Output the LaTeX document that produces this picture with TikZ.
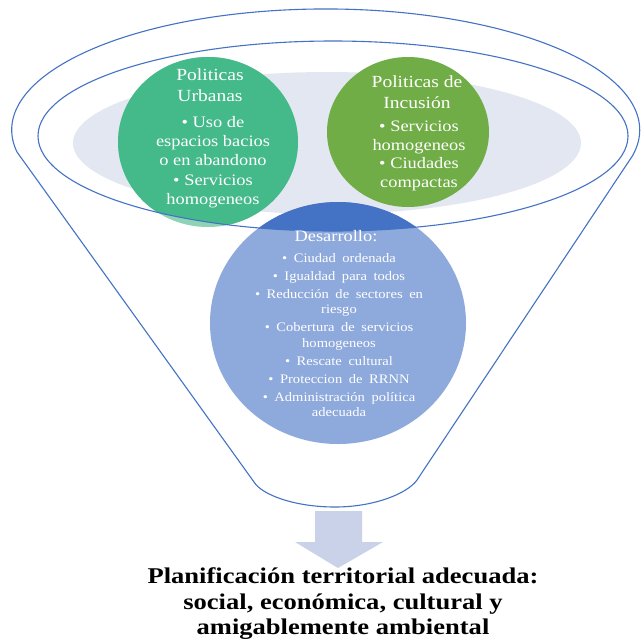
\documentclass[tikz,border=0pt]{standalone}
\usepackage{fontspec}
\setmainfont{Liberation Serif}
\newfontfamily\wf[FakeStretch=1.15]{Liberation Serif}
\newfontfamily\wfsp[FakeStretch=1.12,WordSpace=1.8]{Liberation Serif}
\newfontfamily\bwf[FakeStretch=1.18]{Liberation Serif}
\definecolor{lineblue}{HTML}{4472C4}
\definecolor{cgreenA}{HTML}{44B98A}
\definecolor{cgreenAlt}{HTML}{8ED3B5}
\definecolor{cgreenB}{HTML}{70AD47}
\definecolor{cblueL}{HTML}{8EA9DB}
\definecolor{cblueD}{HTML}{4472C4}
\definecolor{cgrey}{HTML}{E3E7F2}
\definecolor{carrow}{HTML}{CAD2EA}
\begin{document}
\begin{tikzpicture}[x=1pt,y=-1pt,
  outl/.style={draw=lineblue, line width=1.1pt},
  ctext/.style={text=white, align=center, inner sep=0pt},
  ttl/.style={ctext, font=\wf\fontsize{17}{20.5}\selectfont},
  dbul/.style={ctext, font=\wfsp\fontsize{13}{15.5}\selectfont},
]
\useasboundingbox (0,0) rectangle (642,638);
\fill[white] (0,0) rectangle (642,638);
% funnel outline
\path[outl, fill=white] (633,155) -- (417,480)
  .. controls (408,493) and (375,507) .. (335,507)
  .. controls (295,507) and (262,495) .. (254,482)
  -- (17,152) arc[start angle=169.5, end angle=371.9, x radius=314, y radius=121] -- cycle;
% grey ellipse
\fill[cgrey] (327,143) ellipse [x radius=254, y radius=71];
% circle A
\fill[cgreenAlt] (208,142) ellipse [x radius=90, y radius=85];
\begin{scope}
  \clip (333,136) ellipse [x radius=295, y radius=95];
  \fill[cgreenA] (208,142) ellipse [x radius=90, y radius=85];
\end{scope}
% circle B
\fill[cgreenB] (408,132) ellipse [x radius=81, y radius=75];
% circle C
\fill[cblueL] (338,323) ellipse [x radius=128, y radius=121];
\begin{scope}
  \clip (333,136) ellipse [x radius=295, y radius=95];
  \fill[cblueD] (338,323) ellipse [x radius=128, y radius=121];
\end{scope}
% inner ellipse
\draw[outl] (333,136) ellipse [x radius=295, y radius=95];
% texts
\node[ttl] (ta) at (210,85) {Politicas\\Urbanas};
\node[ctext, font=\wf\fontsize{16}{19.3}\selectfont] (ba) at (213,162) {• Uso de\\espacios bacios\\o en abandono\\• Servicios\\homogeneos};
\node[ttl] (tb) at (417,92) {Politicas de\\Incusión};
\node[ctext, font=\wf\fontsize{16}{18.5}\selectfont] (bb) at (419,156) {• Servicios\\homogeneos\\• Ciudades\\compactas};
\node[ctext, font=\wf\fontsize{16}{19}\selectfont] (tc) at (336,236) {Desarrollo:};
\node[dbul] (bc) at (339,335) {• Ciudad ordenada\\[2.5pt]
  • Igualdad para todos\\[2.5pt]
  • Reducción de sectores en\\riesgo\\[2.5pt]
  • Cobertura de servicios\\homogeneos\\[2.5pt]
  • Rescate cultural\\[2.5pt]
  • Proteccion de RRNN\\[2.5pt]
  • Administración política\\adecuada};
% arrow
\fill[carrow] (315,511) -- (362,511) -- (362,542) -- (383,542) -- (338,568) -- (295,542) -- (315,542) -- cycle;
% bottom text
\node[align=center, inner sep=0pt, font=\bwf\bfseries\fontsize{22.5}{25.5}\selectfont] (res) at (343,604)
  {Planificación territorial adecuada:\\social, económica, cultural y\\amigablemente ambiental};
\end{tikzpicture}
\end{document}
